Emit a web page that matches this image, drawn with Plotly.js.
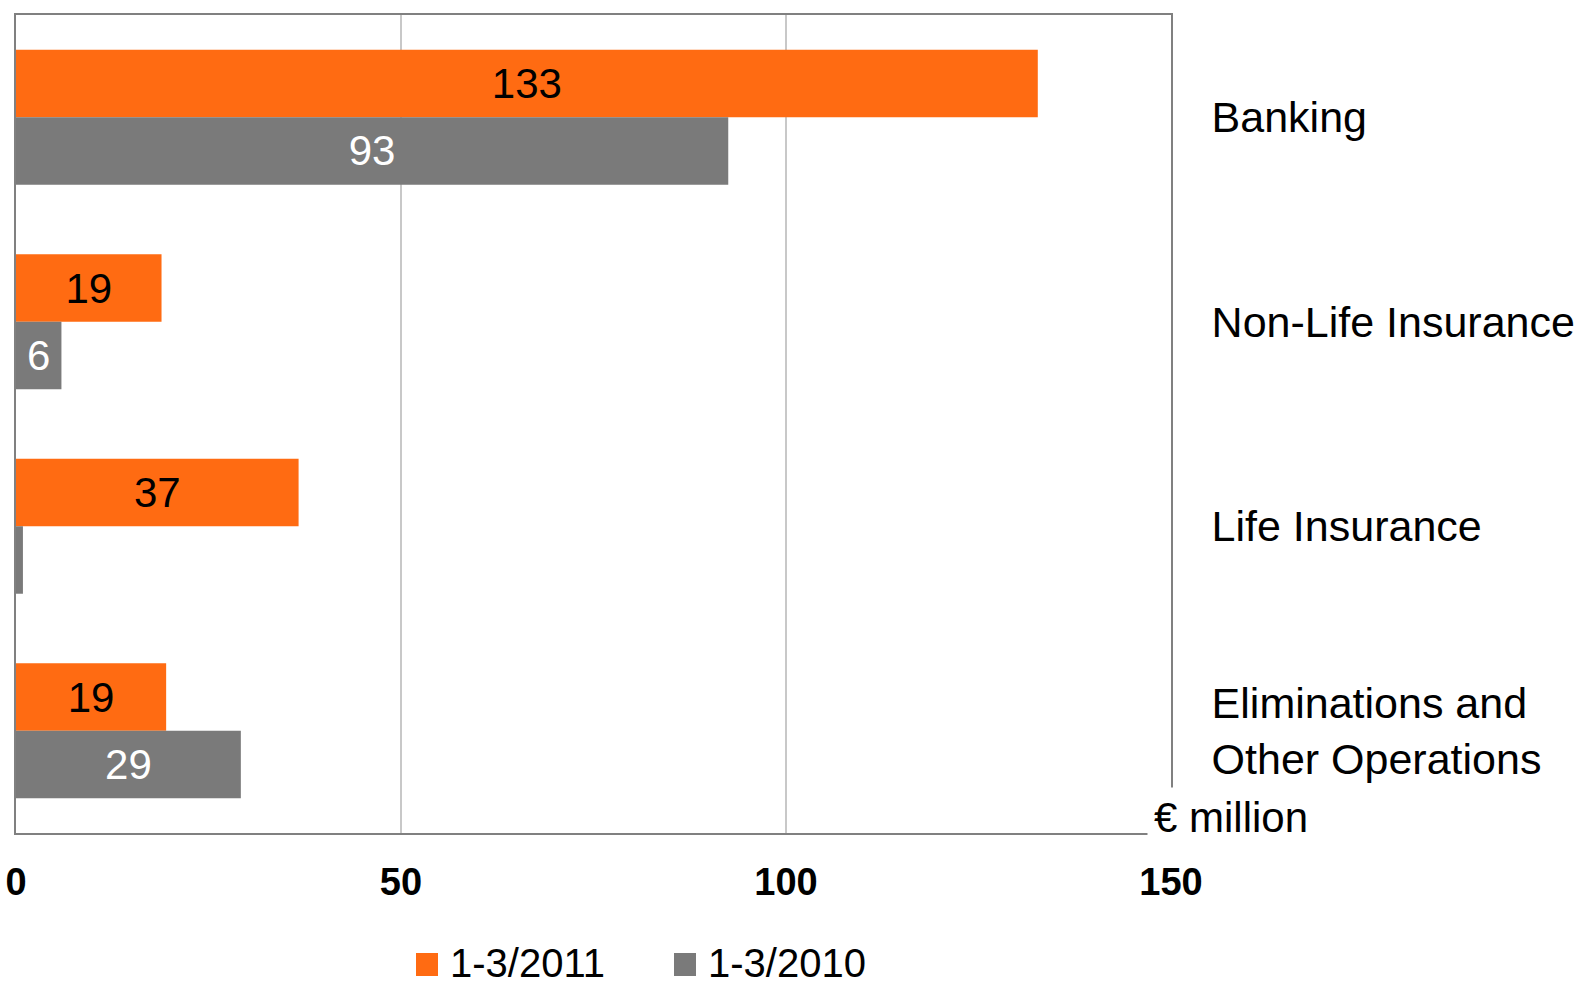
<!DOCTYPE html>
<html>
<head>
<meta charset="utf-8">
<script src="https://cdn.plot.ly/plotly-3.0.1.min.js"></script>
<style>html,body{margin:0;padding:0;background:#fff;}#chart{width:1589px;height:984px;}</style>
</head>
<body>
<div id="chart"></div>
<script>
const categories = ['Banking', 'Non-Life Insurance', 'Life Insurance', 'Eliminations and<br>Other Operations'];
const seriesNames = ['1-3/2011', '1-3/2010'];
const values2011 = [132.7, 18.9, 36.7, 19.5];
const values2010 = [92.5, 5.9, 0.9, 29.2];
const labels2011 = ['133', '19', '37', '19'];
const labels2010 = ['93', '6', '', '29'];
const xTicks = [0, 50, 100, 150];
const unitLabel = '€ million';

const W = 1589, H = 984;
const L = 16, R = 1171, T = 15, B = 833;
const px2x = p => (p - L) / (R - L);
const px2y = p => (B - p) / (B - T);

const orange = '#FF6B12', gray = '#7A7A7A';
const font = 'Liberation Sans, Arial, sans-serif';

const traces = [
  {type: 'bar', orientation: 'h', name: seriesNames[0], y: categories, x: values2011,
   marker: {color: orange}, text: labels2011, textposition: 'inside', insidetextanchor: 'middle',
   textfont: {family: font, size: 42, color: '#000'}, constraintext: 'none', hoverinfo: 'x+y'},
  {type: 'bar', orientation: 'h', name: seriesNames[1], y: categories, x: values2010,
   marker: {color: gray}, text: labels2010, textposition: 'inside', insidetextanchor: 'middle',
   textfont: {family: font, size: 42, color: '#fff'}, constraintext: 'none', hoverinfo: 'x+y'}
];

const legendItems = [
  {name: seriesNames[0], color: orange, sq: 416, tx: 448},
  {name: seriesNames[1], color: gray, sq: 674, tx: 706}
];
const shapes = legendItems.map(it => ({
  type: 'rect', xref: 'paper', yref: 'paper',
  x0: px2x(it.sq), x1: px2x(it.sq + 22), y0: px2y(976), y1: px2y(953),
  fillcolor: it.color, line: {width: 0}
}));
const annotations = legendItems.map(it => ({
  xref: 'paper', yref: 'paper', x: px2x(it.tx), y: px2y(963), xanchor: 'left', yanchor: 'middle',
  text: it.name, showarrow: false, font: {family: font, size: 40, color: '#000'}
}));
annotations.push({
  xref: 'paper', yref: 'paper', x: px2x(1147), y: px2y(787), xanchor: 'left', yanchor: 'top',
  text: unitLabel, showarrow: false, bgcolor: '#fff', borderpad: 6,
  font: {family: font, size: 42, color: '#000'}
});

const layout = {
  width: W, height: H,
  margin: {l: L, r: W - R, t: T, b: H - B, pad: 0},
  paper_bgcolor: '#fff', plot_bgcolor: '#fff',
  showlegend: false,
  barmode: 'group', bargap: 0.34, bargroupgap: 0,
  font: {family: font, color: '#000'},
  xaxis: {
    range: [0, 150], tickvals: xTicks, ticktext: xTicks.map(String),
    showgrid: true, gridcolor: '#c8c8c8', gridwidth: 1.5, zeroline: false,
    showline: true, linecolor: '#808080', linewidth: 2, mirror: true,
    ticks: '', ticklabelstandoff: 14,
    tickfont: {family: font, size: 38, color: '#000', weight: 'bold'}
  },
  yaxis: {
    type: 'category', autorange: 'reversed', side: 'right',
    showgrid: false, zeroline: false,
    showline: true, linecolor: '#808080', linewidth: 2, mirror: true,
    ticks: '', ticklabelstandoff: 30,
    tickfont: {family: font, size: 43, color: '#000'}
  },
  shapes: shapes,
  annotations: annotations
};

Plotly.newPlot('chart', traces, layout, {displayModeBar: false, staticPlot: true});
</script>
</body>
</html>
